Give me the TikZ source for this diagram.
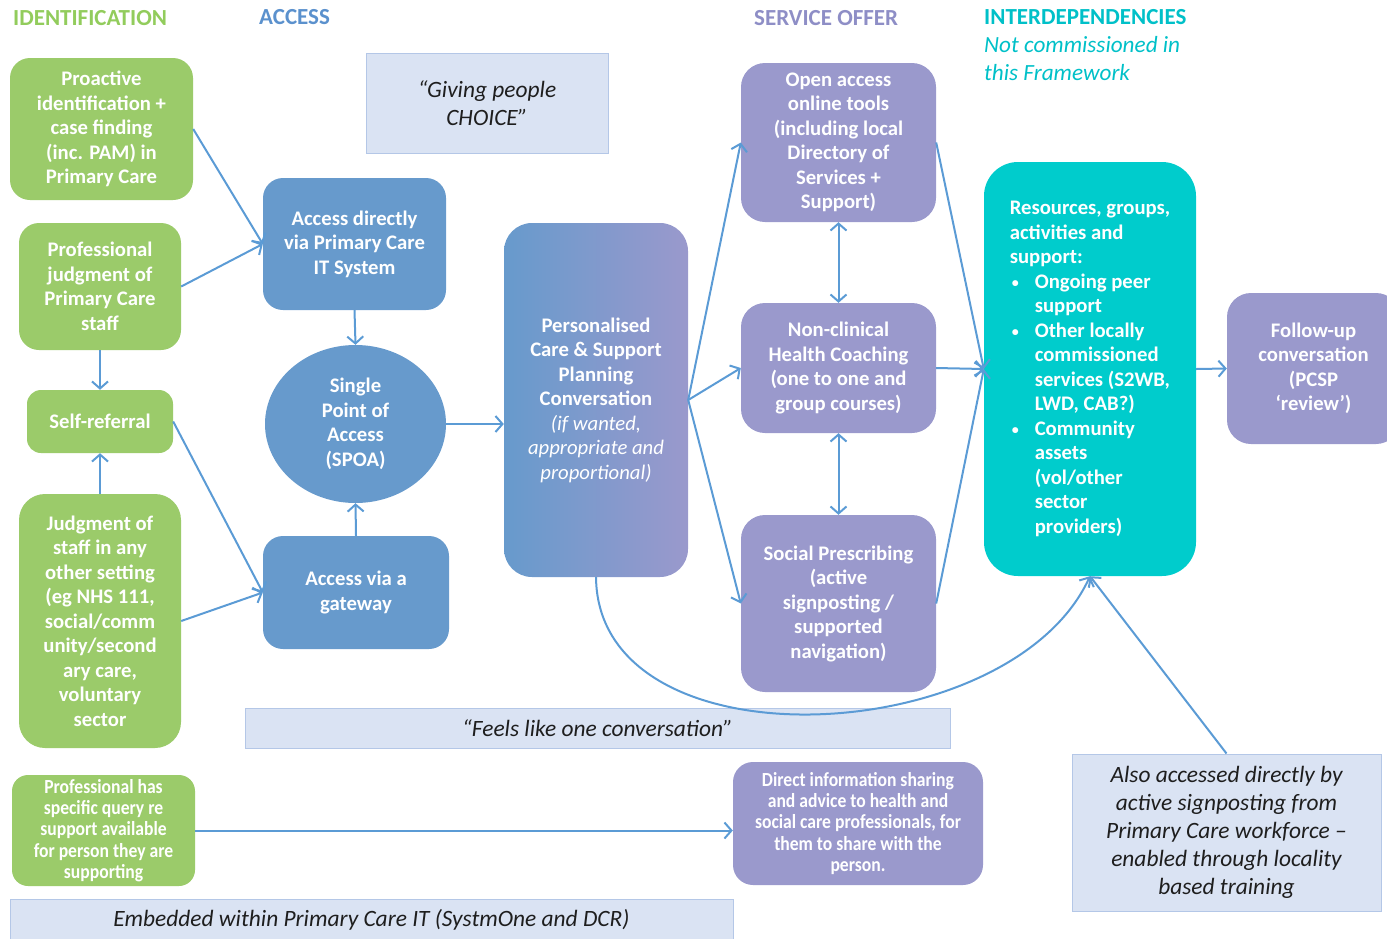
\documentclass[tikz,border=0pt]{standalone}
\usepackage{fontspec}
\setmainfont{Carlito}
\newfontfamily\narrowfont[FakeStretch=0.88]{Carlito}
\usetikzlibrary{arrows.meta,shapes.geometric}
\definecolor{cgreen}{RGB}{155,203,106}
\definecolor{cblue}{RGB}{103,154,204}
\definecolor{cpurple}{RGB}{154,153,204}
\definecolor{cteal}{RGB}{0,204,204}
\definecolor{cnote}{RGB}{218,227,243}
\definecolor{cnoteb}{RGB}{180,199,231}
\definecolor{carrow}{RGB}{91,155,213}
\definecolor{hgreen}{RGB}{146,204,92}
\definecolor{hblue}{RGB}{91,145,205}
\definecolor{hpurple}{RGB}{142,142,198}
\definecolor{hteal}{RGB}{0,192,200}
\definecolor{ctext}{RGB}{30,30,30}
\newcommand\itl[1]{{\mdseries\itshape #1}}
\newcommand\bul{\makebox[25pt][l]{\hspace{2pt}\raisebox{1pt}{\fontsize{14}{14}\selectfont\textbullet}}}
\newcommand\ind{\hspace*{25pt}}
\tikzset{
  box/.style={rounded corners=20pt, text=white, align=center, inner sep=0pt,
    font=\bfseries\fontsize{20.7}{24.5}\selectfont},
  smallbox/.style={box, font=\narrowfont\bfseries\fontsize{20}{21.2}\selectfont},
  gbox/.style={box, fill=cgreen},
  bbox/.style={box, fill=cblue},
  pbox/.style={box, fill=cpurple},
  note/.style={draw=cnoteb, line width=1pt, fill=cnote, text=ctext, align=center,
    inner sep=0pt, font=\itshape\fontsize{23.4}{28}\selectfont},
  header/.style={anchor=west, inner sep=0pt, font=\bfseries\fontsize{23}{26}\selectfont},
  conn/.style={draw=carrow, line width=2pt, -{Straight Barb[length=7pt,width=16pt]}},
  dconn/.style={draw=carrow, line width=2pt, {Straight Barb[length=7pt,width=16pt]}-{Straight Barb[length=7pt,width=16pt]}},
}
\begin{document}
\begin{tikzpicture}[x=1pt,y=-1pt]
\useasboundingbox (0,0) rectangle (1387,938);
% headers
\node[header, text=hgreen] (h1) at (13,18) {IDENTIFICATION};
\node[header, text=hblue] (h2) at (259,17) {ACCESS};
\node[header, text=hpurple] (h3) at (754,18) {SERVICE OFFER};
\node[header, text=hteal] (h4) at (984,17) {INTERDEPENDENCIES};
\node[anchor=north west, inner sep=0pt, align=left, text=hteal, font=\itshape\fontsize{23.2}{28}\selectfont] (h5) at (984,36) {Not commissioned in\\this Framework};
% identification
\node[gbox, minimum width=183pt, minimum height=142pt] (P1) at (101.5,129) {Proactive\\identification +\\case finding\\(inc. PAM) in\\Primary Care};
\node[gbox, minimum width=162pt, minimum height=127pt] (P2) at (100,286.5) {Professional\\judgment of\\Primary Care\\staff};
\node[gbox, rounded corners=14pt, minimum width=146pt, minimum height=63pt] (SR) at (100,421.5) {Self-referral};
\node[gbox, rounded corners=26pt, minimum width=162pt, minimum height=254pt] (P3) at (100,621) {Judgment of\\staff in any\\other setting\\(eg NHS 111,\\social/comm\\unity/second\\ary care,\\voluntary\\sector};
\node[gbox, smallbox, rounded corners=16pt, fill=cgreen, minimum width=183pt, minimum height=111pt] (P4) at (103.5,830.5) {Professional has\\specific query re\\support available\\for person they are\\supporting};
% access
\node[bbox, minimum width=183pt, minimum height=132pt] (A1) at (354.5,244) {Access directly\\via Primary Care\\IT System};
\node[box, ellipse, fill=cblue, minimum width=181pt, minimum height=158pt] (SP) at (355.5,424) {Single\\Point of\\Access\\(SPOA)};
\node[bbox, minimum width=186pt, minimum height=113pt] (A2) at (356,592.5) {Access via a\\gateway};
\node[note, minimum width=242pt, minimum height=100pt] (CH) at (487,103) {“Giving people\\CHOICE”};
% planning
\node[box, rounded corners=28pt, left color=cblue, right color=cpurple, minimum width=184pt, minimum height=354pt] (PC) at (596,400) {Personalised\\Care \& Support\\Planning\\Conversation\\\itl{(if wanted,}\\\itl{appropriate and}\\\itl{proportional)}};
% service offer
\node[pbox, rounded corners=24pt, minimum width=195pt, minimum height=159pt] (S1) at (838.5,142.5) {Open access\\online tools\\(including local\\Directory of\\Services +\\Support)};
\node[pbox, rounded corners=24pt, minimum width=195pt, minimum height=130pt] (S2) at (838.5,368) {Non-clinical\\Health Coaching\\(one to one and\\group courses)};
\node[pbox, rounded corners=24pt, minimum width=195pt, minimum height=177pt] (S3) at (838.5,603.5) {Social Prescribing\\(active\\signposting /\\supported\\navigation)};
% interdependencies
\node[box, fill=cteal, rounded corners=34pt, align=left, minimum width=212pt, minimum height=414pt] (R) at (1090,369) {Resources, groups,\\activities and\\support:\\\bul Ongoing peer\\\ind support\\\bul Other locally\\\ind commissioned\\\ind services (S2WB,\\\ind LWD, CAB?)\\\bul Community\\\ind assets\\\ind (vol/other\\\ind sector\\\ind providers)};
\node[pbox, rounded corners=24pt, minimum width=173pt, minimum height=151pt] (F) at (1313.5,368.5) {Follow-up\\conversation\\(PCSP\\‘review’)};
% notes
\node[note, minimum width=705pt, minimum height=40pt] (FL) at (597.5,728) {“Feels like one conversation”};
\node[note, minimum width=723pt, minimum height=42pt] (EM) at (371.5,920) {Embedded within Primary Care IT (SystmOne and DCR)};
\node[note, minimum width=309pt, minimum height=157pt] (AL) at (1226.5,832.5) {Also accessed directly by\\active signposting from\\Primary Care workforce –\\enabled through locality\\based training};
\node[pbox, smallbox, rounded corners=20pt, fill=cpurple, minimum width=250pt, minimum height=123pt] (D) at (858,823.5) {Direct information sharing\\and advice to health and\\social care professionals, for\\them to share with the\\person.};
% connectors
\draw[conn] (P1.east) -- (A1.west);
\draw[conn] (P2.east) -- (A1.west);
\draw[conn] (P2.south) -- (SR.north);
\draw[conn] (P3.north) -- (SR.south);
\draw[conn] (SR.east) -- (A2.west);
\draw[conn] (P3.east) -- (A2.west);
\draw[conn] (A1.south) -- (SP.north);
\draw[conn] (A2.north) -- (SP.south);
\draw[conn] (SP.east) -- (SP.east -| PC.west);
\draw[conn] (PC.east) -- (S1.west);
\draw[conn] (PC.east) -- (S2.west);
\draw[conn] (PC.east) -- (S3.west);
\draw[dconn] (S1.south) -- (S2.north);
\draw[dconn] (S2.south) -- (S3.north);
\draw[conn] (S1.east) -- (R.west);
\draw[conn] (S2.east) -- (R.west);
\draw[conn] (S3.east) -- (R.west);
\draw[conn] (R.east) -- (F.west);
\draw[conn] (PC.south) .. controls (598,770) and (1010,750) .. (R.south);
\draw[conn] (AL.north) -- (R.south);
\draw[conn] (P4.east) -- (P4.east -| D.west);
\end{tikzpicture}
\end{document}
